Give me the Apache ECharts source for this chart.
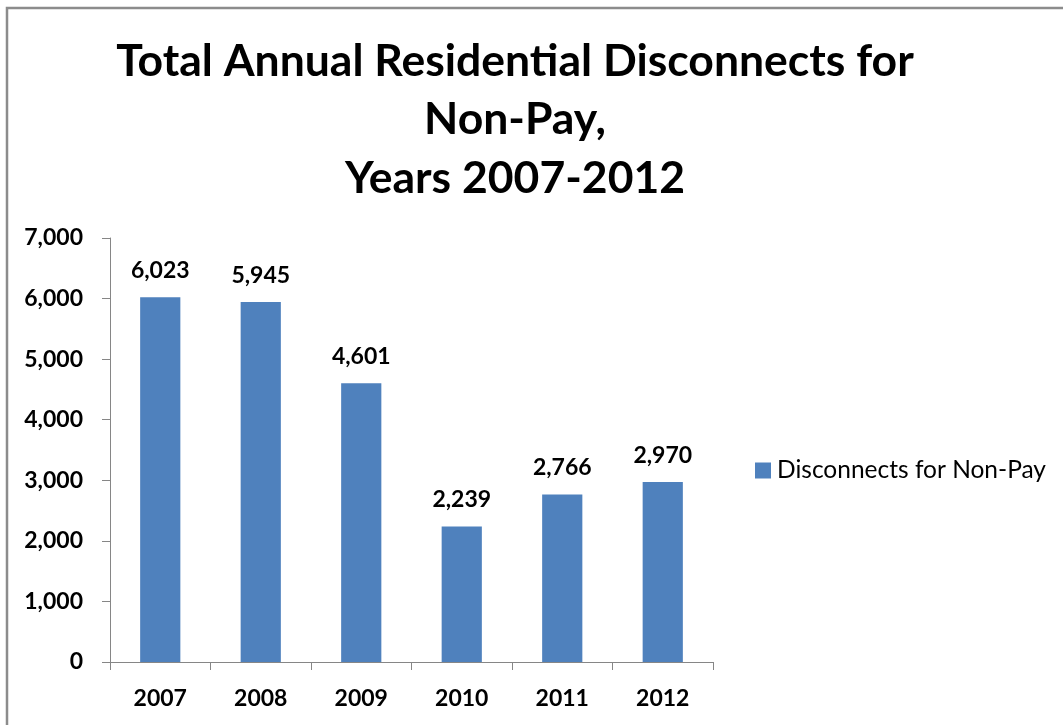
<!DOCTYPE html>
<html>
<head>
<meta charset="utf-8">
<style>
html,body{margin:0;padding:0;background:#fff;}
#chart{width:1063px;height:725px;}
</style>
<script src="https://cdn.jsdelivr.net/npm/echarts@6/dist/echarts.min.js"></script>
</head>
<body>
<div id="chart"></div>
<script>
var titleLines = ['Total Annual Residential Disconnects for', 'Non-Pay,', 'Years 2007-2012'];
var categories = ['2007', '2008', '2009', '2010', '2011', '2012'];
var seriesName = 'Disconnects for Non-Pay';
var values = [6023, 5945, 4601, 2239, 2766, 2970];
var yTicks = [0, 1000, 2000, 3000, 4000, 5000, 6000, 7000];

var FONT = 'Lato, "Open Sans", sans-serif';
var chart = echarts.init(document.getElementById('chart'));
function fmt(v){ return v.toLocaleString('en-US'); }

chart.setOption({
  animation: false,
  title: {
    text: titleLines.join('\n'),
    left: 510,
    textAlign: 'center',
    top: 27,
    textStyle: { fontFamily: FONT, fontSize: 44.5, fontWeight: 'bold', color: '#000', lineHeight: 58.5 }
  },
  legend: {
    data: [seriesName],
    left: 755,
    top: 458,
    padding: 0,
    itemWidth: 16,
    itemHeight: 16,
    icon: 'rect',
    textStyle: { fontFamily: FONT, fontSize: 24.5, color: '#000', padding: [0, 0, 0, 1] }
  },
  graphic: [{
    type: 'rect',
    shape: { x: 7, y: 8, width: 1200, height: 900 },
    style: { fill: 'none', stroke: '#8c8c8c', lineWidth: 2.5 },
    silent: true
  }],
  grid: { left: 110, right: 350, top: 238, bottom: 63 },
  xAxis: {
    type: 'category',
    data: categories,
    axisLine: { lineStyle: { color: '#868686', width: 1 } },
    axisTick: { show: true, length: 8, lineStyle: { color: '#868686' } },
    axisLabel: { fontFamily: FONT, fontSize: 23, fontWeight: 'bold', color: '#000', margin: 25, lineHeight: 23 }
  },
  yAxis: {
    type: 'value',
    min: 0, max: 7000, interval: 1000,
    axisLine: { show: true, lineStyle: { color: '#868686', width: 1 } },
    axisTick: { show: true, length: 8, lineStyle: { color: '#868686' } },
    splitLine: { show: false },
    axisLabel: {
      fontFamily: FONT, fontSize: 23, fontWeight: 'bold', color: '#000', margin: 27,
      formatter: function(v){ return yTicks.indexOf(v) >= 0 ? fmt(v) : ''; }
    }
  },
  series: [{
    name: seriesName,
    type: 'bar',
    data: values,
    barWidth: '40%',
    itemStyle: { color: '#4F81BD' },
    label: {
      show: true, position: 'top', distance: 15,
      fontFamily: FONT, fontSize: 23, fontWeight: 'bold', color: '#000', lineHeight: 23,
      formatter: function(p){ return fmt(p.value); }
    }
  }]
});
</script>
</body>
</html>
